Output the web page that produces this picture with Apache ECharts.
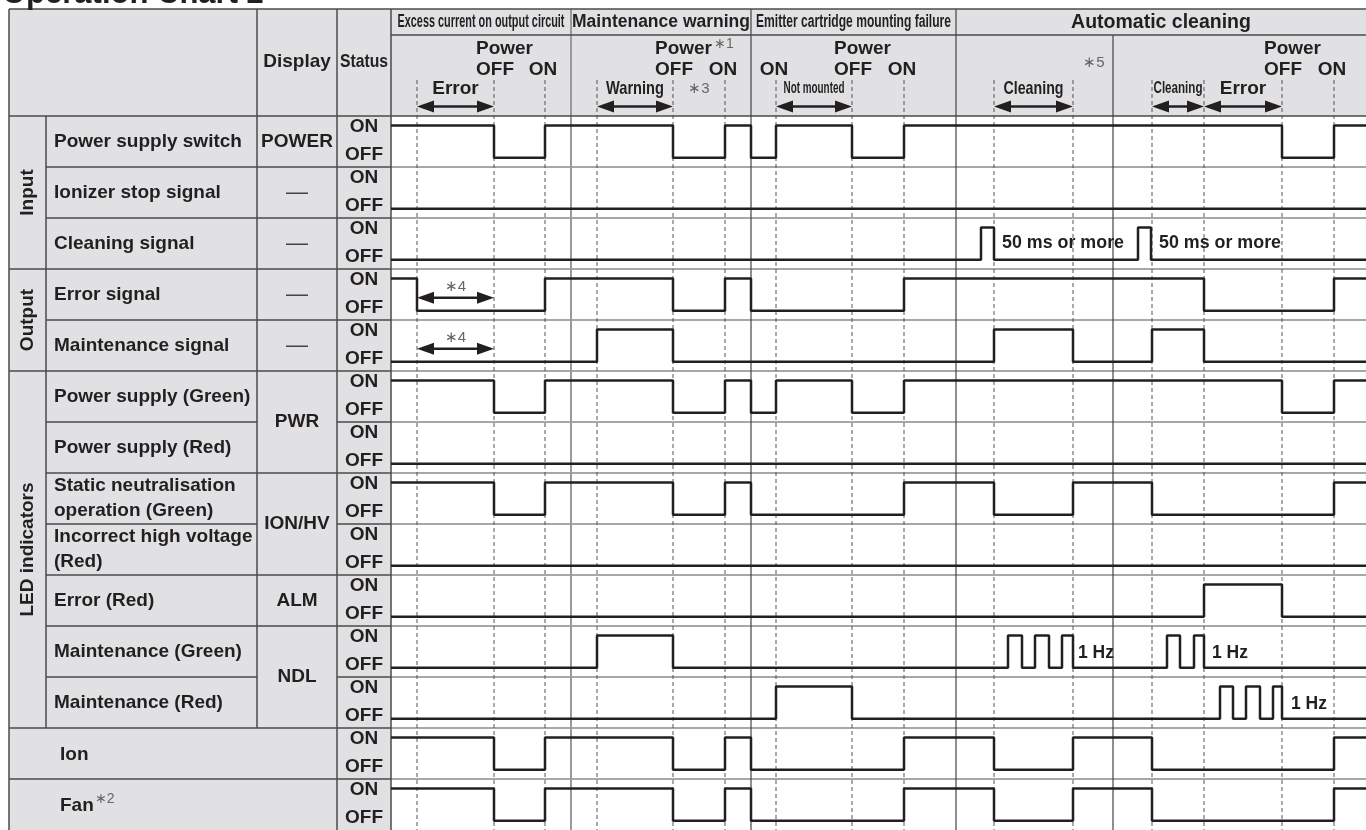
<!DOCTYPE html>
<html>
<head>
<meta charset="utf-8">
<script src="https://cdn.jsdelivr.net/npm/echarts@6/dist/echarts.min.js"></script>
<style>
  html, body { margin: 0; padding: 0; background: #fff; }
  #chart { width: 1366px; height: 830px; }
</style>
</head>
<body>
<div id="chart"></div>
<script>
// ---- data (time units along the chart, state 1 = ON, 0 = OFF) ----
const sectionNames = ['Excess current on output circuit', 'Maintenance warning', 'Emitter cartridge mounting failure', 'Automatic cleaning'];
const sectionStarts = [0, 180, 360, 565];
const timeEnd = 975;
const cleaningSplit = 722;
const guideTimes = [26, 103, 154, 206, 282, 334, 385, 461, 513, 603, 682, 761, 813, 891, 943];

const groupNames = ['Input', 'Output', 'LED indicators'];
const groupRows = [[0, 2], [3, 4], [5, 11]];
const rowNames = ['Power supply switch', 'Ionizer stop signal', 'Cleaning signal', 'Error signal', 'Maintenance signal',
  'Power supply (Green)', 'Power supply (Red)', 'Static neutralisation\noperation (Green)', 'Incorrect high voltage\n(Red)',
  'Error (Red)', 'Maintenance (Green)', 'Maintenance (Red)', 'Ion', 'Fan'];
const displayNames = ['POWER', '—', '—', '—', '—', 'PWR', 'ION/HV', 'ALM', 'NDL'];
const displayRows = [[0, 0], [1, 1], [2, 2], [3, 3], [4, 4], [5, 6], [7, 8], [9, 9], [10, 11]];

const powerSwitch = [[0, 1], [103, 0], [154, 1], [282, 0], [334, 1], [360, 0], [385, 1], [461, 0], [513, 1], [891, 0], [943, 1], [975, 1]];
const ionizerStop = [[0, 0], [975, 0]];
const cleaningSignal = [[0, 0], [590, 1], [603, 0], [747, 1], [760, 0], [975, 0]];
const errorSignal = [[0, 1], [26, 0], [154, 1], [282, 0], [334, 1], [360, 0], [513, 1], [813, 0], [943, 1], [975, 1]];
const maintenanceSignal = [[0, 0], [206, 1], [282, 0], [603, 1], [682, 0], [761, 1], [813, 0], [975, 0]];
const pwrGreen = [[0, 1], [103, 0], [154, 1], [282, 0], [334, 1], [360, 0], [385, 1], [461, 0], [513, 1], [891, 0], [943, 1], [975, 1]];
const pwrRed = [[0, 0], [975, 0]];
const ionGreen = [[0, 1], [103, 0], [154, 1], [282, 0], [334, 1], [360, 0], [513, 1], [603, 0], [682, 1], [761, 0], [943, 1], [975, 1]];
const hvRed = [[0, 0], [975, 0]];
const almRed = [[0, 0], [813, 1], [891, 0], [975, 0]];
const ndlGreen = [[0, 0], [206, 1], [282, 0], [617, 1], [631, 0], [644, 1], [658, 0], [671, 1], [682, 0], [776, 1], [789, 0], [803, 1], [813, 0], [975, 0]];
const ndlRed = [[0, 0], [385, 1], [461, 0], [829, 1], [842, 0], [855, 1], [869, 0], [882, 1], [891, 0], [975, 0]];
const ionOut = [[0, 1], [103, 0], [154, 1], [282, 0], [334, 1], [360, 0], [513, 1], [603, 0], [682, 1], [761, 0], [943, 1], [975, 1]];
const fanOut = [[0, 1], [103, 0], [154, 1], [282, 0], [334, 1], [360, 0], [513, 1], [603, 0], [682, 1], [761, 0], [943, 1], [975, 1]];

const rowSignals = [powerSwitch, ionizerStop, cleaningSignal, errorSignal, maintenanceSignal, pwrGreen, pwrRed,
  ionGreen, hvRed, almRed, ndlGreen, ndlRed, ionOut, fanOut];

// header annotations
const spanLabels = ['Error', 'Warning', 'Not mounted', 'Cleaning', 'Cleaning', 'Error'];
const spanFrom = [26, 206, 385, 603, 761, 813];
const spanTo = [103, 282, 461, 682, 813, 891];
const powerOffTimes = [103, 282, 461, 891];
const powerOnTimes = [154, 334, 513, 943];
const hzEnds = [[10, 682], [10, 813], [11, 891]];
const pulseEnds = [603, 760];

// ---- layout ----
const INK = '#231f20';
const GRAY_BG = '#e1e1e3';
const BORDER = '#4a4a4a';
const FONT = '"Liberation Sans", Arial, Helvetica, sans-serif';
const ROW_H = 51.3;
const ON_Y = 0.185, OFF_Y = 0.82;
const X0 = 9, Y0 = 9, HDR1 = 35, HDR2 = 116;
const COL_NAME = 46, COL_DISP = 257, COL_STATUS = 337, COL_TIME = 391;

const chart = echarts.init(document.getElementById('chart'));

function toSteps(events, row) {
  const pts = [];
  events.forEach(([t, s], k) => {
    const y = row + (s ? ON_Y : OFF_Y);
    if (k > 0) pts.push([t, pts[pts.length - 1][1]]);
    pts.push([t, y]);
  });
  return pts;
}

chart.setOption({
  animation: false,
  backgroundColor: '#fff',
  grid: { left: COL_TIME, top: HDR2, width: 1366 - COL_TIME, height: ROW_H * 14 },
  xAxis: { type: 'value', min: 0, max: timeEnd, show: false },
  yAxis: { type: 'value', min: 0, max: 14, inverse: true, show: false },
  series: rowSignals.map((ev, i) => ({
    type: 'line',
    data: toSteps(ev, i),
    symbol: 'none',
    silent: true,
    clip: false,
    z: 5,
    lineStyle: { color: INK, width: 2.5 }
  }))
});

const px = t => chart.convertToPixel({ xAxisIndex: 0 }, t);
const py = v => chart.convertToPixel({ yAxisIndex: 0 }, v);
const measure = document.createElement('canvas').getContext('2d');
function textWidth(str, font) { measure.font = font; return measure.measureText(str).width; }

const els = [];
function rect(x, y, w, h, fill) {
  els.push({ type: 'rect', silent: true, z: -5, shape: { x, y, width: w, height: h }, style: { fill } });
}
function line(x1, y1, x2, y2, stroke, width, dash, z) {
  els.push({ type: 'line', silent: true, z: z || 1, shape: { x1, y1, x2, y2 },
    style: { stroke, lineWidth: width, lineDash: dash || null } });
}
function txt(str, x, y, o) {
  o = o || {};
  const font = (o.weight || 'bold') + ' ' + (o.size || 19) + 'px ' + FONT;
  const el = { type: 'text', silent: true, z: 10, x, y,
    style: { text: str, font, fill: o.fill || INK, align: o.align || 'center', verticalAlign: 'middle',
      textAlign: o.align || 'center', textVerticalAlign: 'middle', lineHeight: o.lineHeight || 25 } };
  if (o.fit) el.scaleX = o.fit / textWidth(str, font);
  if (o.rot) el.rotation = o.rot;
  els.push(el);
}
function arrow(xa, xb, y) {
  const len = 17, hh = 6;
  line(xa + len - 2, y, xb - len + 2, y, INK, 2.5, null, 6);
  els.push({ type: 'polygon', silent: true, z: 6, shape: { points: [[xa, y], [xa + len, y - hh], [xa + len, y + hh]] }, style: { fill: INK } });
  els.push({ type: 'polygon', silent: true, z: 6, shape: { points: [[xb, y], [xb - len, y - hh], [xb - len, y + hh]] }, style: { fill: INK } });
}

const xEnd = px(timeEnd) + 5;
const yEnd = py(14);

// backgrounds
rect(X0, Y0, COL_TIME - X0, yEnd - Y0, GRAY_BG);
rect(COL_TIME, Y0, xEnd - COL_TIME, HDR2 - Y0, GRAY_BG);

// title (cut off at the top)
txt('Operation Chart 2', 2, -6, { align: 'left', size: 31 });

// timing grid: row separators, section separators, guides
for (let i = 1; i < 14; i++) line(COL_TIME, py(i), xEnd, py(i), '#8a8a8a', 1.5);
guideTimes.forEach(t => line(px(t), 80, px(t), yEnd, '#555', 1, [4, 3], 2));
sectionStarts.slice(1).forEach((t, k) => line(px(t), Y0, px(t), yEnd, k === 0 ? '#9a9a9a' : '#444', k === 0 ? 2 : 1.2, null, 3));
line(px(cleaningSplit), HDR1, px(cleaningSplit), yEnd, '#444', 1.2, null, 3);

// table borders
line(X0, Y0, xEnd, Y0, BORDER, 1.5, null, 4);
line(COL_TIME, HDR1, xEnd, HDR1, BORDER, 1.5, null, 4);
line(X0, HDR2, xEnd, HDR2, BORDER, 1.5, null, 4);
line(X0, Y0, X0, yEnd, BORDER, 1.5, null, 4);
line(COL_DISP, Y0, COL_DISP, py(12), BORDER, 1.5, null, 4);
line(COL_STATUS, Y0, COL_STATUS, yEnd, BORDER, 1.5, null, 4);
line(COL_TIME, Y0, COL_TIME, yEnd, BORDER, 1.5, null, 4);
line(COL_NAME, HDR2, COL_NAME, py(12), BORDER, 1.5, null, 4);
const groupBreaks = [3, 5, 12, 13];
const mergedDisplay = [6, 8, 11];
for (let i = 1; i < 14; i++) {
  const x0 = groupBreaks.includes(i) ? X0 : COL_NAME;
  if (mergedDisplay.includes(i)) {
    line(x0, py(i), COL_DISP, py(i), BORDER, 1.5, null, 4);
    line(COL_STATUS, py(i), COL_TIME, py(i), BORDER, 1.5, null, 4);
  } else {
    line(x0, py(i), COL_TIME, py(i), BORDER, 1.5, null, 4);
  }
}

// left column texts
txt('Display', (COL_DISP + COL_STATUS) / 2, 62);
txt('Status', (COL_STATUS + COL_TIME) / 2, 62, { fit: 48 });
groupNames.forEach((g, k) => {
  const [a, b] = groupRows[k];
  txt(g, (X0 + COL_NAME) / 2, (py(a) + py(b + 1)) / 2, { rot: Math.PI / 2 });
});
rowNames.forEach((n, i) => {
  const yc = (py(i) + py(i + 1)) / 2;
  if (i >= 12) {
    txt(n, 60, yc + 1, { align: 'left' });
  } else if (n.includes('\n')) {
    const parts = n.split('\n');
    txt(parts[0], 54, py(i) + 13, { align: 'left' });
    txt(parts[1], 54, py(i) + 38, { align: 'left' });
  } else {
    txt(n, 54, yc, { align: 'left' });
  }
  txt('ON', (COL_STATUS + COL_TIME) / 2, py(i) + 11);
  txt('OFF', (COL_STATUS + COL_TIME) / 2, py(i) + 39);
});
const fanW = textWidth('Fan', 'bold 19px ' + FONT);
txt('∗2', 61 + fanW, (py(13) + py(14)) / 2 - 5, { align: 'left', weight: 'normal', size: 14, fill: '#666' });
displayNames.forEach((d, k) => {
  const [a, b] = displayRows[k];
  const isDash = d === '—';
  txt(d, (COL_DISP + COL_STATUS) / 2, (py(a) + py(b + 1)) / 2, isDash ? { weight: 'normal', size: 22, fill: '#444' } : {});
});

// header row 1: section titles
const sectionEnds = sectionStarts.slice(1).concat([timeEnd]);
const titleStyles = [
  { size: 18, fit: 167 },
  { size: 17.5 },
  { size: 18, fit: 195 },
  { size: 19.5 }
];
sectionNames.forEach((s, k) => txt(s, (px(sectionStarts[k]) + px(sectionEnds[k])) / 2, 22.5, titleStyles[k]));

// header row 2: power OFF/ON notes
const powerW = textWidth('Power', 'bold 19px ' + FONT);
powerOffTimes.forEach((t, k) => {
  const xl = px(t) - 18;
  txt('Power', xl, 49, { align: 'left' });
  txt('OFF', xl, 70, { align: 'left' });
  txt('ON', px(powerOnTimes[k]) - 2, 70);
  if (k === 1) txt('∗1', xl + powerW + 2, 44, { align: 'left', weight: 'normal', size: 14, fill: '#666' });
});
txt('ON', px(385) - 2, 70);

// header row 2: spans with arrows
const spanStyles = [{}, { fit: 58 }, { size: 17, fit: 61 }, { fit: 60 }, { size: 17, fit: 49 }, {}];
spanLabels.forEach((s, k) => {
  const xa = px(spanFrom[k]), xb = px(spanTo[k]);
  txt(s, (xa + xb) / 2, 88.5, spanStyles[k]);
  arrow(xa, xb, 106.5);
});
txt('∗3', (px(282) + px(334)) / 2, 88.5, { weight: 'normal', size: 15, fill: '#666' });
txt('∗5', (px(682) + px(cleaningSplit)) / 2 + 1, 63, { weight: 'normal', size: 15, fill: '#666' });

// timing area annotations
[3, 4].forEach(r => {
  arrow(px(26), px(103), py(r + 0.565));
  txt('∗4', (px(26) + px(103)) / 2, py(r + 0.35), { weight: 'normal', size: 15, fill: '#666' });
});
pulseEnds.forEach(t => txt('50 ms or more', px(t) + 8, py(2.49), { align: 'left', size: 18, fit: 122 }));
hzEnds.forEach(([r, t], k) => txt('1 Hz', px(t) + [5, 8, 9][k], py(r + 0.53), { align: 'left', size: 18, fit: 36 }));

chart.setOption({ graphic: { elements: els } });
</script>
</body>
</html>
